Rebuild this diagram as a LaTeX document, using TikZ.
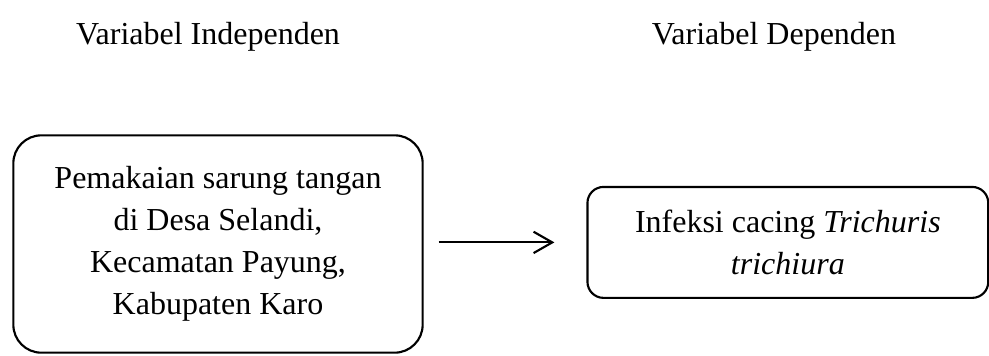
\documentclass[tikz,border=0pt]{standalone}
\usepackage{fontspec}
\setmainfont{Liberation Serif}
\usetikzlibrary{positioning,arrows.meta}

\begin{document}
\begin{tikzpicture}[x=0.375pt,y=-0.375pt,>={Straight Barb[length=7pt,width=8pt]},node distance=61pt,
			line width=0.8pt]
			\tikzstyle{every node}=[font=\fontsize{12}{15.75}\selectfont,text=black]
			\tikzstyle{varbox}=[draw=black,line width=0.8pt,align=center,inner sep=0pt]
			
			\useasboundingbox (0,0) rectangle (989,355);
			
			\node    (T1) at (208,37)		{Variabel Independen};
			
			\node    (T2) at (774,37)		{Variabel Dependen};
			
			\node[varbox, rounded corners=10.5pt, minimum width=153.5pt, minimum height=81.5pt]    (X) at (218,244)
			{Pemakaian sarung tangan\\di Desa Selandi,\\Kecamatan Payung,\\Kabupaten Karo};
			
			\node[varbox, rounded corners=6pt, minimum width=150.3pt, minimum height=41.6pt]    (Y)[right=of X, yshift=0.6pt]
			{Infeksi cacing \textit{Trichuris}\\\textit{trichiura}};
			
			\path
			
			(X.east |- Y.west) edge[->, shorten <=5.6pt, shorten >=12pt] (Y.west);
			
			\end{tikzpicture}
\end{document}
